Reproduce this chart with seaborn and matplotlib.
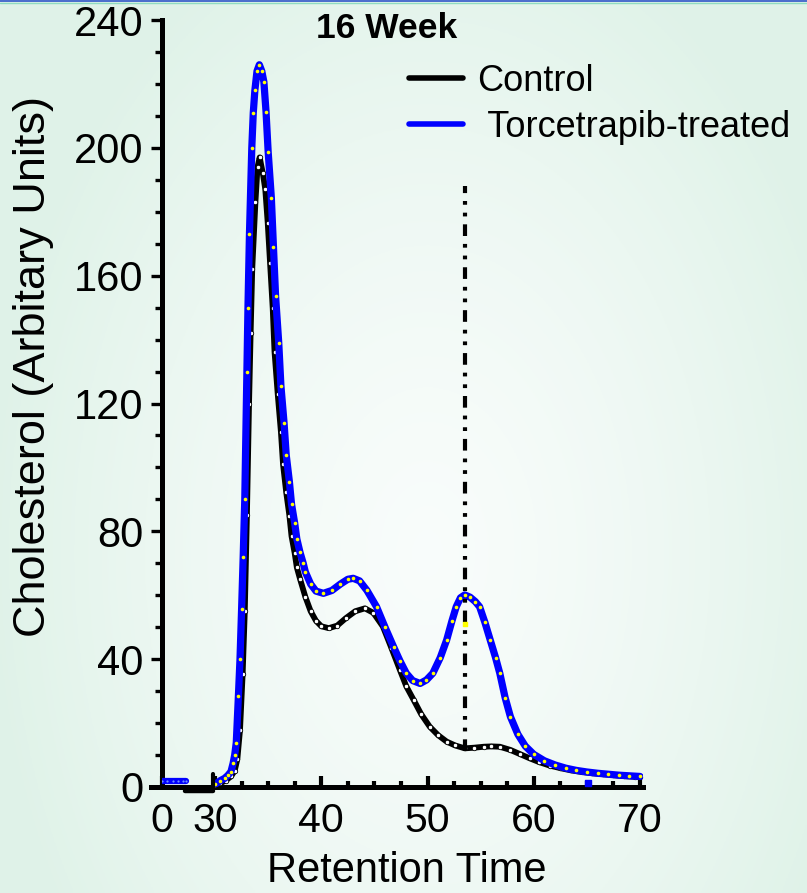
import numpy as np
import seaborn as sns
import matplotlib.pyplot as plt
from matplotlib.lines import Line2D
import matplotlib.transforms as mtransforms

# retention time (min) and cholesterol (arbitrary units)
early_time = [0.0, 0.5, 1.0, 1.5, 2.0, 2.3]
early_treated = [1.9, 1.9, 1.9, 1.9, 1.9, 1.9]

treated_time = [30.0, 30.5, 30.9, 31.2, 31.5, 31.7, 31.85, 32.0, 32.2, 32.35, 32.5, 32.65,
                32.8, 33.0, 33.1, 33.24, 33.46, 33.6, 33.75, 33.95, 34.17, 34.4, 34.6, 34.8,
                35.0, 35.3, 35.5, 35.7, 36.0, 36.2, 36.5, 36.7, 37.0, 37.2, 37.5, 37.7,
                38.0, 38.3, 38.5, 39.0, 39.5, 40.2, 41.0, 41.8, 42.5, 43.0, 43.6, 44.3,
                45.2, 46.0, 46.8, 47.4, 48.0, 48.6, 49.3, 49.9, 50.5, 51.2, 51.8, 52.3,
                52.7, 53.1, 53.5, 54.0, 54.5, 54.9, 55.4, 55.9, 56.4, 56.8, 57.3, 57.8,
                58.5, 59.2, 60.0, 61.0, 62.0, 63.0, 64.0, 65.0, 66.0, 67.0, 68.0, 69.0, 70.0]
treated = [0.8, 2.0, 2.7, 3.6, 4.8, 7.4, 10.0, 13.9, 28.5, 40.0, 55.6, 72.0,
           90.0, 130.0, 150.0, 173.0, 200.0, 211.0, 218.0, 224.0, 226.0, 224.0, 220.6, 211.3,
           198.8, 184.4, 168.9, 153.6, 138.8, 125.6, 113.8, 103.9, 95.5, 88.5, 82.5, 77.6,
           73.4, 70.0, 67.3, 63.5, 61.3, 60.6, 61.5, 63.5, 65.0, 65.3, 64.5, 61.5,
           56.4, 50.0, 43.9, 39.5, 35.6, 33.3, 32.4, 33.5, 35.6, 40.5, 46.0, 52.0,
           56.4, 59.2, 60.1, 59.4, 58.0, 56.4, 51.5, 46.0, 40.5, 35.6, 28.0, 22.0,
           16.5, 12.8, 10.2, 8.2, 6.9, 5.9, 5.2, 4.7, 4.3, 4.0, 3.7, 3.5, 3.3]

control_time = [30.0, 30.5, 31.0, 31.5, 31.85, 32.1, 32.35, 32.6, 32.8, 33.0, 33.2, 33.35,
                33.5, 33.8, 34.0, 34.2, 34.5, 34.73, 34.96, 35.18, 35.43, 35.6, 35.9, 36.2,
                36.4, 36.7, 37.0, 37.2, 37.5, 37.7, 38.0, 38.5, 39.0, 39.5, 40.0, 40.7,
                41.5, 42.3, 43.2, 44.1, 44.9, 45.8, 46.6, 47.4, 48.0, 48.7, 49.4, 50.2,
                51.0, 51.8, 52.6, 53.5, 54.4, 55.3, 56.0, 56.8, 57.8, 58.7, 59.6, 60.5,
                61.5, 62.5, 63.5, 64.5, 65.5, 66.5, 67.5, 68.5, 69.5, 70.0]
control = [0.6, 1.2, 2.0, 3.3, 5.1, 8.7, 17.8, 35.4, 55.0, 85.0, 120.0, 142.0,
           162.0, 183.0, 194.0, 197.0, 192.0, 187.0, 176.5, 164.0, 149.8, 136.2, 123.0, 111.2,
           101.0, 92.2, 84.9, 78.5, 73.1, 68.7, 65.1, 59.5, 55.0, 52.0, 50.3, 49.7,
           50.5, 52.8, 55.0, 55.9, 54.5, 50.2, 43.5, 36.6, 31.5, 27.2, 22.8, 18.9,
           16.2, 14.2, 13.0, 12.1, 12.3, 12.6, 12.7, 12.6, 11.6, 10.3, 9.0, 7.8,
           6.7, 5.9, 5.2, 4.7, 4.3, 4.0, 3.7, 3.4, 3.2, 3.1]

marker_time = [53.5]
marker_span = [11.3, 188.0]
stray_time = [53.5, 65.1]
stray_val = [51.0, 1.2]

x_ticks = [0, 30, 40, 50, 60, 70]
y_ticks = [0, 40, 80, 120, 160, 200, 240]


def axis_pos(t):
    # broken axis: 0-5 min squeezed in front of 30
    t = np.asarray(t, dtype=float)
    return np.where(t < 30, 25 + t, t)


sns.set_style("ticks")
plt.rcParams['font.family'] = ['Liberation Sans', 'DejaVu Sans']
plt.rcParams['text.color'] = 'black'
plt.rcParams['axes.labelcolor'] = 'black'

fig = plt.figure(figsize=(8.07, 8.93), dpi=100)

# soft green background with a lighter centre
bg = fig.add_axes([0, 0, 1, 1], zorder=-10)
gx, gy = np.meshgrid(np.linspace(0, 1, 300), np.linspace(0, 1, 300))
r = np.sqrt(((gx - 0.53) / 0.55) ** 2 + ((gy - 0.62) / 0.75) ** 2)
r = np.clip(r, 0, 1)
c0 = np.array([0.975, 0.99, 0.985])
c1 = np.array([0.875, 0.95, 0.91])
img = c0 + (c1 - c0) * r[..., None] ** 1.4
bg.imshow(img, extent=[0, 1, 0, 1], aspect='auto', origin='upper')
bg.axis('off')
fig.add_artist(Line2D([0, 1], [0.9985, 0.9985], color='#2f55c8', lw=1.2, transform=fig.transFigure))
fig.add_artist(Line2D([0, 1], [0.9962, 0.9962], color='#8fdcc0', lw=1.0, transform=fig.transFigure))

ax = fig.add_axes([161.9 / 807, 106 / 893, 480.8 / 807, 767 / 893])
ax.patch.set_alpha(0)

sns.lineplot(x=control_time, y=control, ax=ax, color='black', lw=4.2, sort=False,
             marker='o', ms=3.2, mfc='white', mec='black', mew=0.6, zorder=3)
sns.lineplot(x=treated_time, y=treated, ax=ax, color='#0000ff', lw=5.2, sort=False,
             marker='o', ms=2.6, mfc='#ffff00', mec='#ffff00', mew=0, zorder=4)
sns.lineplot(x=axis_pos(early_time), y=early_treated, ax=ax, color='#0000ff', lw=4.5,
             sort=False, marker='o', ms=1.6, mfc='#6f8fff', mec='none', zorder=4)

# dash-dot marker line at the treated peak
ax.plot(marker_time * 2, marker_span, color='black', lw=3.0,
        dashes=(2.8, 1.9, 0.9, 1.9, 0.9, 1.9), zorder=5)
ax.scatter(stray_time[:1], stray_val[:1], s=6, marker='s', color='#ffff00', zorder=6)
ax.scatter(stray_time[1:], stray_val[1:], s=22, marker='s', color='#0000ff', zorder=6)

ax.set_xlim(25, 70.25)
ax.set_ylim(0, 240)
ax.set_xticks(axis_pos(x_ticks))
ax.set_xticklabels([str(t) for t in x_ticks])
ax.set_xticks(np.arange(32.5, 70, 2.5), minor=True)
ax.set_yticks(y_ticks)
ax.set_yticks(np.arange(0, 241, 10), minor=True)

for s in ['top', 'right']:
    ax.spines[s].set_visible(False)
for s in ['left', 'bottom']:
    ax.spines[s].set_linewidth(3.6)
    ax.spines[s].set_color('black')
ax.spines['bottom'].set_bounds(24.0, 70.25)

ax.tick_params(axis='y', which='major', direction='out', length=8, width=2.4, pad=5,
               labelsize=30, colors='black')
ax.tick_params(axis='y', which='minor', direction='out', length=5, width=2.4, colors='black')
ax.tick_params(axis='x', which='major', direction='in', length=8, width=3, pad=11,
               labelsize=29.5, colors='black')
ax.tick_params(axis='x', which='minor', direction='in', length=4, width=3, colors='black')

# axis break between 0 and 30
off = mtransforms.offset_copy(ax.transData, fig=fig, x=0, y=-3.5, units='dots')
ax.plot([27.2, 29.8], [0, 0], color='black', lw=3.2, transform=off, clip_on=False, zorder=6)
ax.plot([29.85, 29.85], [0, 4], color='black', lw=3.0, clip_on=False, zorder=6)

ax.set_xlabel('Retention Time', fontsize=30)
ax.xaxis.set_label_coords(0.51, -0.084)
ax.set_ylabel('Cholesterol (Arbitary Units)', fontsize=32.5)
ax.yaxis.set_label_coords(-0.224, 0.548)

fig.text(387 / 807, 1 - 29 / 893, '16 Week', ha='center', va='center',
         fontsize=25.5, fontweight='bold')

handles = [Line2D([], [], color='black', lw=4),
           Line2D([], [], color='#0000ff', lw=4)]
ax.legend(handles, ['Control', ' Torcetrapib-treated'], loc='upper left',
          bbox_to_anchor=(409 / 807, 1 - 64 / 893), bbox_transform=fig.transFigure,
          frameon=False, fontsize=26, handlelength=1.5, handletextpad=0.4,
          labelspacing=0.3, borderpad=0, borderaxespad=0)

fig.savefig('out.png', dpi=100)
